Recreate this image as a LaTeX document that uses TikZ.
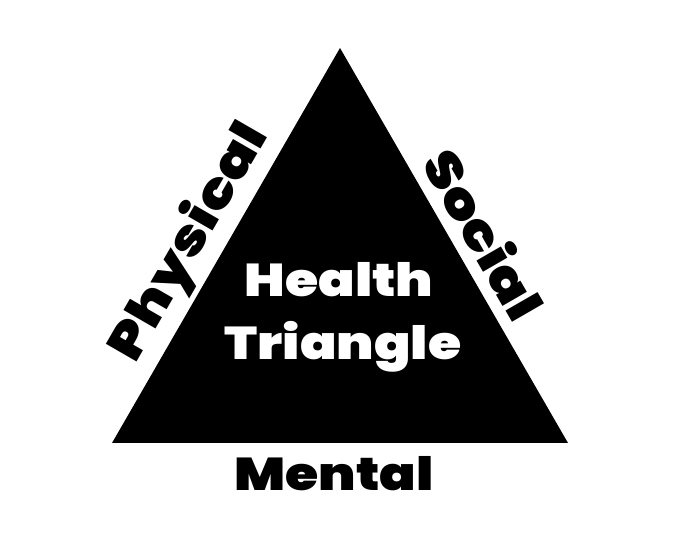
\documentclass[tikz,border=0pt]{standalone}
\usepackage{fontspec}
\setmainfont{Poppins}[UprightFont=* Black]
\newcommand{\wide}[1]{\scalebox{1.17}[1]{#1}}
\begin{document}
\begin{tikzpicture}[x=1pt,y=1pt,
  lbl/.style={font=\fontsize{46}{50}\selectfont, inner sep=0pt},
  sidelbl/.style={font=\fontsize{50}{54}\selectfont, inner sep=0pt},
  inlbl/.style={lbl, text=white, anchor=base}]
\useasboundingbox (0,0) rectangle (700,540);
\fill[white] (0,0) rectangle (700,540);
\coordinate (apex) at (340,492);
\coordinate (bl) at (112,97);
\coordinate (br) at (568,97);
\fill[black] (apex) -- (bl) -- (br) -- cycle;
\node[inlbl] (health) at (339,243) {\wide{Health}};
\node[inlbl] (tri) at (343,180) {\wide{Triangle}};
\node[lbl, anchor=base] (mental) at (334,50) {\wide{Mental}};
\node[sidelbl, rotate=60] (phys) at (190,297) {\wide{Physical}};
\node[sidelbl, rotate=-60] (soc) at (485,306) {\wide{Social}};
\end{tikzpicture}
\end{document}
